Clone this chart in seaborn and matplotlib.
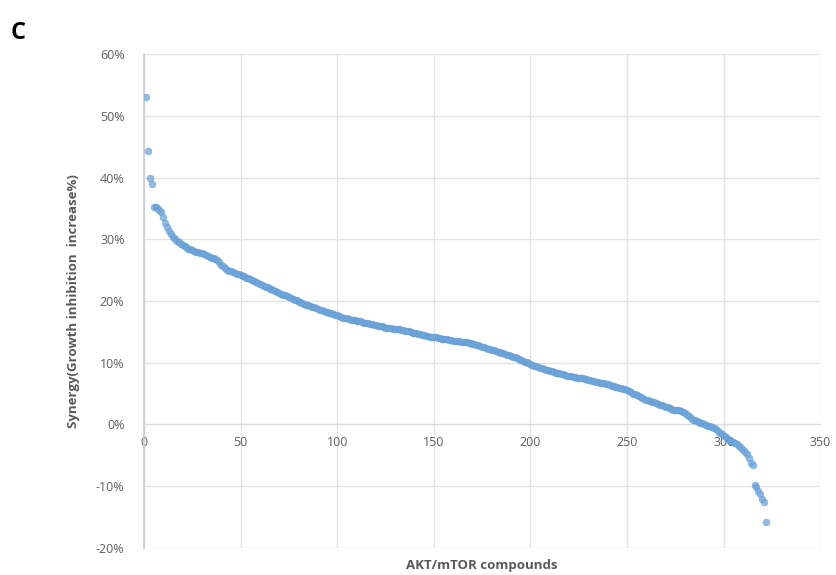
import numpy as np
import pandas as pd
import seaborn as sns
import matplotlib.pyplot as plt
from matplotlib.ticker import FuncFormatter, MultipleLocator

# synergy values (%), sorted high -> low, one per compound
synergy = [
    53.1, 44.3, 40.0, 38.9, 35.3, 35.2, 35.0, 34.8, 34.4, 33.6,
    32.7, 32.0, 31.4, 30.9, 30.3, 30.0, 29.7, 29.5, 29.3,
    29.1, 28.9, 28.7, 28.5, 28.4, 28.2,
    28.1, 28.0, 27.9, 27.8, 27.7, 27.6, 27.4,
    27.3, 27.2, 27.0, 26.9, 26.8, 26.6,
    26.3, 25.9, 25.6, 25.3, 25.0,
    24.9, 24.8, 24.7, 24.5, 24.4, 24.3, 24.2,
    24.1, 24.0, 23.8, 23.7, 23.5, 23.4,
    23.2, 23.1, 22.9, 22.8, 22.6, 22.5, 22.3, 22.2, 22.0, 21.9, 21.8,
    21.6, 21.5, 21.3, 21.2, 21.0, 20.9, 20.8, 20.6, 20.5,
    20.4, 20.2, 20.1, 19.9, 19.8, 19.7, 19.5, 19.4,
    19.3, 19.2, 19.1, 19.0, 18.8, 18.7, 18.6, 18.5, 18.4, 18.3, 18.2,
    18.1, 18.0, 17.9, 17.8, 17.7, 17.6,
    17.4, 17.3, 17.2, 17.2, 17.1, 17.0, 17.0, 16.9, 16.8, 16.8, 16.7, 16.6,
    16.5, 16.4, 16.4, 16.3, 16.2, 16.1, 16.1, 16.0, 15.9, 15.9, 15.8,
    15.7, 15.7, 15.6, 15.6, 15.5, 15.5, 15.4, 15.4, 15.3, 15.3,
    15.2, 15.1, 15.1, 15.0, 14.9, 14.8, 14.8, 14.7, 14.6, 14.5, 14.5, 14.4, 14.3, 14.2,
    14.2, 14.1, 14.1, 14.0, 14.0, 13.9, 13.9, 13.8, 13.8, 13.7,
    13.7, 13.6, 13.6, 13.5, 13.5, 13.4, 13.4, 13.3, 13.3, 13.2, 13.2,
    13.1, 13.0, 12.9, 12.8, 12.7, 12.6, 12.5, 12.4, 12.3, 12.2, 12.1, 12.0, 11.9, 11.8,
    11.7, 11.6, 11.5, 11.4, 11.3, 11.2, 11.1, 11.0, 10.9, 10.8,
    10.6, 10.5, 10.3, 10.2, 10.1, 9.9, 9.8, 9.7, 9.5, 9.4,
    9.3, 9.2, 9.1, 9.0, 8.9, 8.8, 8.7, 8.6, 8.5,
    8.4, 8.3, 8.3, 8.2, 8.1, 8.0, 7.9, 7.9, 7.8, 7.7,
    7.7, 7.6, 7.6, 7.5, 7.5, 7.4, 7.3,
    7.2, 7.2, 7.1, 7.0, 6.9, 6.9, 6.8, 6.7, 6.7, 6.6, 6.5,
    6.4, 6.3, 6.2, 6.1, 6.0, 5.9, 5.9, 5.8, 5.7, 5.6,
    5.4, 5.2, 5.0, 4.9, 4.7, 4.6, 4.4,
    4.3, 4.2, 4.0, 3.9, 3.8, 3.7, 3.6, 3.5, 3.3, 3.2,
    3.1, 3.0, 2.9, 2.8, 2.7, 2.5, 2.4,
    2.4, 2.3, 2.3, 2.2, 2.1,
    1.8, 1.5, 1.3, 1.0, 0.8,
    0.7, 0.5, 0.4, 0.3, 0.2, 0.0, -0.1, -0.2, -0.3, -0.4, -0.5,
    -0.7, -1.0, -1.3, -1.6, -1.9,
    -2.1, -2.3, -2.5, -2.7, -2.9, -3.0, -3.2,
    -3.5, -3.8, -4.2, -4.5, -4.8,
    -5.4, -6.2, -6.6,
    -9.8, -10.2, -10.8, -11.3, -12.1, -12.6,
    -15.8,
]
compound = list(range(1, len(synergy) + 1))

df = pd.DataFrame({"compound": compound, "synergy": np.array(synergy) / 100})

sns.set_style("white")
plt.rcParams["font.family"] = ["Open Sans", "DejaVu Sans"]

fig = plt.figure(figsize=(8.37, 5.75), dpi=100)
ax = fig.add_axes([0.172, 0.047, 0.808, 0.859])

# Excel-ish light blue markers, a bit soft like the scanned figure
sns.scatterplot(data=df, x="compound", y="synergy", ax=ax, color="#6fa6dc",
                s=24, edgecolor="#5b96d0", linewidth=0.4, alpha=0.75, zorder=3)

ax.set_xlim(0, 350)
ax.set_ylim(-0.2, 0.6)
ax.xaxis.set_major_locator(MultipleLocator(50))
ax.yaxis.set_major_locator(MultipleLocator(0.1))
ax.yaxis.set_major_formatter(FuncFormatter(lambda v, p: f"{v * 100:.0f}%"))

ax.grid(True, color="#e3e3e3", linewidth=1.0, zorder=0)
for s in ["top", "right"]:
    ax.spines[s].set_visible(False)
ax.spines["bottom"].set_position(("data", 0))
ax.spines["bottom"].set_color("#dadada")
ax.spines["left"].set_color("#c8cdd4")
ax.spines["left"].set_linewidth(1.2)
ax.tick_params(axis="both", length=0, labelsize=9, labelcolor="#606060")
ax.tick_params(axis="y", pad=14)
ax.tick_params(axis="x", pad=8)

ax.set_xlabel("AKT/mTOR compounds", fontsize=9.5, fontweight="bold", color="#595959")
ax.set_ylabel("Synergy(Growth inhibition  increase%)", fontsize=9.5, fontweight="bold",
              color="#595959")
ax.xaxis.set_label_coords(0.5, -0.022)
ax.yaxis.set_label_coords(-0.094, 0.5)

fig.text(0.013, 0.933, "C", fontsize=17, fontweight="bold", color="black")

plt.savefig("out.png", dpi=100)
